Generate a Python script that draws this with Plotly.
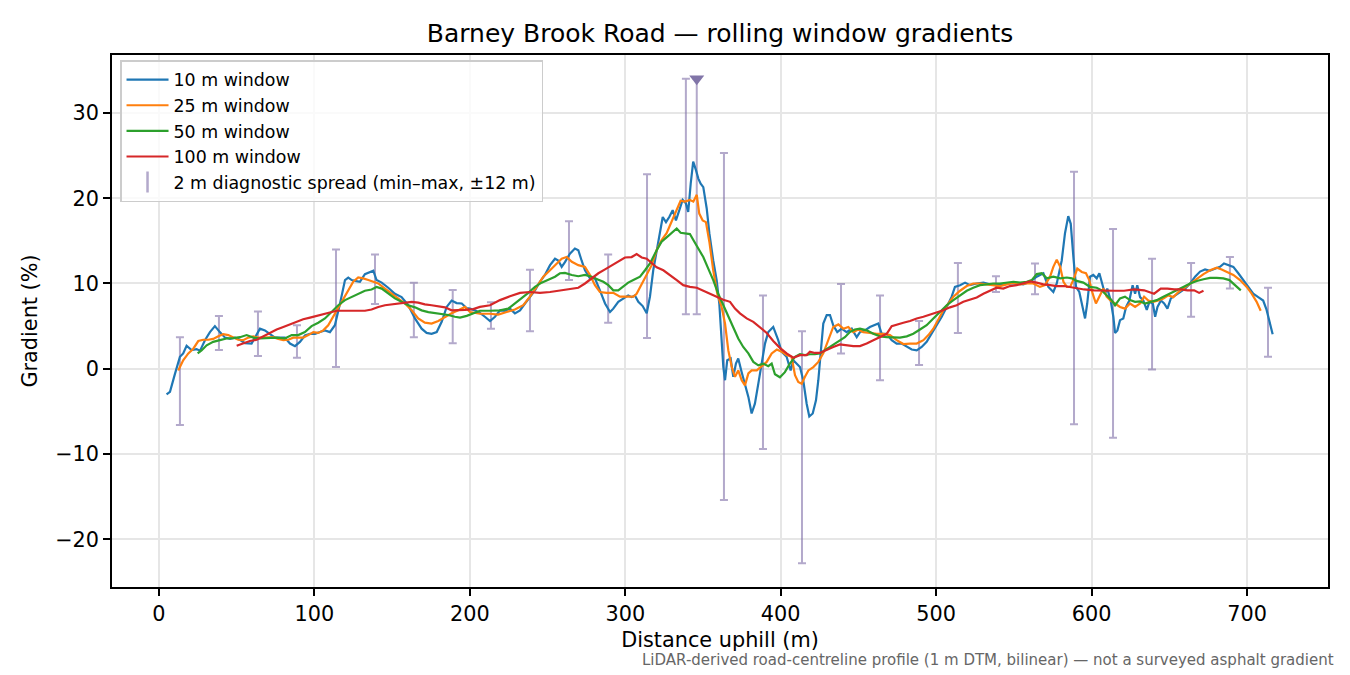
import plotly.graph_objects as go

# 10 m window (distance m, gradient %)
d10 = [4.9, 7.1, 10.3, 13.5, 15.6, 17.8, 21, 24.2, 26.4, 29.6, 32.8, 36, 39.2, 42.5, 45.7, 48.9, 52.1, 55.3, 59.6, 61.8,
       65, 68.2, 71.4, 74.6, 77.8, 81, 84.3, 87.5, 90.7, 93.9, 97.2, 100.4, 103.6, 106.8, 110, 113.2, 116.5, 119.7, 121.8, 124,
       126.1, 129.3, 132.5, 135.8, 137.9, 140, 143.3, 147.5, 151.8, 156.1, 160.4, 164.7, 169, 172.2, 175.4, 178.7, 181.9, 185.1, 188.3, 191.5,
       194.8, 198, 200.1, 203.3, 206.5, 209.7, 213, 216.2, 219.4, 222.6, 225.8, 229, 232.3, 235.5, 238.7, 241.9, 245.1, 248.3, 251.6, 254.8,
       256.9, 259.1, 261.2, 264.4, 267.6, 269.8, 271.9, 274.1, 277.3, 280.5, 283.7, 287, 290.2, 292.3, 295.5, 298.7, 301.9, 304.1, 306.2, 308.4,
       311.2, 313.8, 315.9, 318, 320.2, 322.3, 324.1, 326.2, 328.3, 330.5, 332.6, 334.8, 336.9, 339, 340.5, 342.1, 343.7, 345.5, 347, 348.5,
       350.2, 352.4, 354.1, 356.6, 358.8, 360.5, 362, 363.1, 364.2, 365.6, 367.8, 369.5, 371.2, 372.7, 374.9, 377, 379.2, 381.3, 383.4, 385.6,
       387.8, 389.9, 392, 395.2, 398.4, 400.6, 403.8, 406.4, 408.1, 410.3, 412.4, 414.5, 416.7, 418.4, 420.6, 422.7, 424.2, 425.7, 427.4, 429.6,
       431.7, 433.8, 436.4, 439.2, 442.4, 445.7, 448.9, 451, 454.2, 457.4, 460.6, 462.8, 465, 468.2, 471.4, 474.6, 477.8, 481.1, 484.3, 487.5,
       490.7, 493.9, 497.1, 500.4, 503.6, 506.8, 510, 512.1, 515.4, 518.6, 521.8, 526.1, 530.4, 534.6, 538.9, 543.2, 547.5, 551.8, 556.1, 560.4,
       564.7, 569, 572.2, 575.4, 577.6, 580.8, 582.9, 585, 586.6, 588.3, 590, 592.1, 594.3, 595.8, 597.2, 599, 601.1, 603.3, 605, 606.5,
       608.6, 610.1, 612.3, 614, 615.1, 616.6, 618.3, 620.4, 622.2, 624.3, 626.4, 628, 629.4, 631.2, 633.3, 635.5, 637.2, 639.4, 640.9, 642.4,
       644.6, 646.7, 648.8, 651, 653.8, 657, 660.2, 663.4, 666.6, 669.8, 673, 676.2, 679.4, 682.6, 685.2, 688, 691.2, 694.4, 697.6, 700.8,
       704, 707.2, 710.4, 712.6, 714.8, 716.5]
g10 = [-3.0, -2.7, -0.6, 1.4, 1.8, 2.7, 2.2, 2.3, 2.1, 3.35, 4.3, 5.0, 4.3, 3.65, 3.5, 3.65, 3.4, 3.0, 2.95, 3.7,
       4.7, 4.5, 4.1, 3.65, 3.65, 3.65, 2.95, 2.65, 3.15, 3.9, 4.1, 4.1, 4.3, 4.5, 4.3, 5.1, 7.65, 10.4, 10.7, 10.4,
       10.3, 10.2, 11.1, 11.4, 11.5, 10.4, 10.1, 9.5, 8.8, 8.4, 7.45, 5.9, 4.7, 4.2, 4.1, 4.3, 5.5, 7.25, 8.0, 7.7,
       7.65, 7.1, 7.05, 6.85, 6.55, 6.1, 5.6, 6.1, 6.85, 6.8, 7.05, 6.5, 6.85, 7.65, 8.45, 9.2, 10.2, 11.0, 12.15, 12.9,
       12.7, 11.95, 12.5, 13.5, 14.1, 13.9, 12.7, 11.55, 10.6, 10.6, 9.2, 7.65, 6.65, 7.05, 7.85, 8.25, 8.6, 8.4, 8.6, 7.85,
       7.35, 6.5, 8.45, 11.55, 13.9, 16.25, 17.8, 17.2, 17.8, 18.6, 17.4, 18.6, 19.8, 19.4, 18.4, 21.7, 24.3, 23.3, 22.3, 21.7,
       21.3, 18.8, 15.9, 12.7, 10.4, 7.65, 3.7, 0.2, -1.35, 1.0, 1.2, -0.95, 0.6, 1.2, -0.4, -1.75, -3.3, -5.25, -4.1, -1.75,
       0.6, 2.95, 4.3, 4.9, 3.35, 2.0, 1.4, -0.2, 1.0, 0.6, 0.2, -1.35, -4.1, -5.6, -5.25, -3.7, -1.35, 1.8, 5.3, 6.3,
       6.3, 5.1, 4.3, 4.7, 4.3, 4.7, 3.7, 4.3, 4.5, 4.9, 5.1, 5.3, 4.1, 4.1, 3.35, 2.95, 2.95, 2.55, 2.25, 2.15,
       2.55, 3.15, 4.1, 5.1, 6.1, 7.25, 8.45, 9.6, 9.8, 10.1, 9.8, 10.0, 10.1, 9.9, 9.8, 9.9, 10.0, 10.0, 9.9, 10.2,
       10.8, 11.2, 9.6, 9.0, 10.0, 12.7, 15.9, 17.9, 17.0, 13.1, 9.6, 9.0, 6.9, 5.9, 7.65, 10.8, 11.0, 10.6, 11.2, 10.2,
       8.8, 9.4, 8.0, 6.1, 4.2, 4.5, 5.7, 5.9, 7.25, 8.0, 9.8, 8.8, 9.8, 8.4, 8.0, 6.9, 7.85, 7.65, 6.1, 7.25,
       8.0, 7.65, 7.05, 8.25, 8.6, 9.0, 9.4, 10.0, 10.8, 11.4, 11.65, 11.5, 11.75, 11.95, 12.35, 12.15, 11.95, 11.2, 10.4, 9.5,
       8.8, 8.4, 8.0, 6.9, 5.3, 4.05]

# 25 m window
d25 = [12.4, 15.6, 18.9, 22.1, 25.3, 28.5, 31.7, 34.9, 38.2, 41.4, 44.6, 47.8, 51, 54.2, 57.5, 60.7, 63.9, 67.1, 70.3, 73.5,
       76.8, 80, 83.2, 86.4, 89.6, 92.8, 96.1, 99.3, 102.5, 105.7, 108.9, 112.1, 115.4, 118.6, 121.8, 125, 128.2, 131.4, 134.7, 137.9,
       141.1, 145.4, 149.7, 154, 158.3, 162.6, 166.8, 171.1, 175.4, 179.7, 184, 188.3, 192.6, 196.9, 200.1, 206.5, 213, 218.3, 223.7, 229,
       234.4, 238.7, 243, 247.3, 251.6, 255.9, 259.1, 262.3, 265.6, 269.8, 274.1, 277.3, 280.5, 283.7, 288, 292.3, 296.6, 300.9, 305.2, 307.3,
       310.6, 313.8, 317, 320.2, 323.4, 326.6, 329.8, 333.1, 335.6, 338.4, 341.6, 343.8, 346, 347.6, 349.8, 351.9, 354.1, 356.6, 359.2, 362,
       364.2, 366.3, 368.5, 370.6, 372.7, 374.9, 377, 379.2, 381.3, 384.6, 387.8, 391, 394.2, 397.5, 400.6, 403.8, 407, 409.2, 411.3, 413.5,
       415.6, 417.8, 421, 424.2, 427.4, 430.6, 433.8, 437.1, 440.3, 443.5, 446.7, 449.9, 453.1, 457.4, 461.7, 466, 470.3, 474.6, 478.9, 483.2,
       487.5, 491.8, 495, 498.2, 501.4, 504.6, 507.9, 511.1, 515.4, 519.7, 523.9, 528.2, 532.5, 536.8, 541.1, 545.4, 549.7, 554, 558.3, 562.5,
       566.8, 570, 573.3, 575.4, 577.6, 579.8, 581.9, 584.1, 586.2, 588.7, 590.8, 593.7, 596.4, 598.5, 600.7, 602.8, 605, 607.6, 609.7, 612.3,
       615.1, 618.3, 621.5, 624.7, 628, 631.2, 633.8, 636.5, 639.7, 642.9, 646.2, 649.4, 652.6, 655.8, 659, 663.4, 667.7, 672, 676.2, 680.5,
       683.7, 687, 691.2, 695.5, 699.8, 703, 706.2, 708.8]
g25 = [-0.2, 1.0, 1.8, 2.35, 3.25, 3.4, 3.4, 3.5, 3.8, 4.05, 3.95, 3.7, 3.4, 3.35, 3.65, 3.8, 3.65, 3.65, 3.65, 3.7,
       3.5, 3.35, 3.4, 3.65, 3.65, 3.65, 3.95, 4.3, 4.2, 4.5, 5.1, 6.1, 7.05, 8.05, 9.2, 10.2, 10.7, 10.6, 10.4, 10.2,
       10.0, 9.4, 8.8, 8.25, 7.65, 6.85, 5.9, 5.4, 5.3, 5.6, 6.1, 6.5, 6.85, 7.25, 6.65, 6.45, 6.45, 6.35, 6.65, 6.95,
       7.45, 8.45, 9.6, 10.8, 11.55, 12.35, 12.9, 13.1, 12.55, 12.15, 11.95, 11.0, 9.8, 9.0, 8.9, 8.9, 8.45, 8.45, 8.45, 8.8,
       10.0, 11.0, 12.15, 13.9, 15.1, 15.9, 17.2, 18.6, 19.7, 19.6, 19.8, 19.6, 20.4, 18.2, 17.4, 17.2, 14.9, 11.55, 8.8, 7.25,
       5.3, 2.15, 0.2, -0.95, -0.2, -1.35, -1.95, -0.55, -0.2, -0.2, 0.3, 0.8, 1.8, 2.25, 2.0, 1.6, 1.4, -0.75, -1.55, -1.75,
       -0.95, -0.2, 0.2, 0.8, 1.8, 3.35, 4.9, 5.2, 4.7, 4.9, 4.3, 4.6, 4.3, 4.2, 4.1, 4.1, 3.95, 3.35, 2.9, 2.95,
       2.95, 3.35, 3.95, 4.7, 5.7, 6.85, 7.65, 8.45, 9.15, 9.7, 10.0, 10.0, 9.9, 9.8, 9.7, 9.9, 10.1, 9.9, 10.0, 10.0,
       9.6, 9.8, 10.8, 11.95, 12.8, 11.95, 10.2, 9.6, 9.6, 10.6, 11.75, 11.35, 11.2, 10.4, 8.8, 7.65, 8.45, 9.4, 8.45, 8.0,
       7.65, 7.25, 7.05, 7.65, 7.25, 7.65, 8.45, 8.0, 7.85, 8.0, 8.25, 8.6, 8.4, 9.0, 9.4, 10.0, 10.6, 11.1, 11.55, 11.85,
       11.65, 11.35, 11.0, 10.4, 9.6, 8.8, 7.85, 6.8]

# 50 m window
d50 = [24.9, 27.4, 30.7, 34.9, 39.2, 43.5, 47.8, 52.1, 56.4, 60.7, 65, 70.3, 75.7, 81, 85.4, 89.6, 93.9, 98.2, 102.5, 106.8,
       111.1, 115.4, 119.7, 124, 128.2, 132.5, 136.8, 140, 143.3, 147.5, 151.8, 156.1, 160.4, 164.7, 169, 173.3, 177.6, 181.9, 186.1, 190.4,
       193.7, 198, 202.2, 206.5, 213, 219.4, 224.7, 229, 233.3, 237.6, 241.9, 246.2, 250.5, 254.8, 258, 261.2, 265.6, 269.8, 274.1, 278.4,
       282.7, 285.9, 289.1, 292.3, 295.5, 298.7, 301.9, 305.2, 309.5, 312.7, 315.9, 320.2, 323.4, 326.6, 329.8, 333.1, 335.6, 339.5, 341.6, 343.8,
       347, 350.2, 353.4, 356.6, 359.8, 363.1, 366.3, 369.5, 372.7, 375.9, 379.2, 382.4, 385.6, 388.8, 392, 394.2, 396.3, 399.5, 402.7, 405.9,
       409.2, 412.4, 415.6, 418.8, 422, 425.2, 428.5, 431.7, 434.9, 438.1, 441.3, 444.5, 447.7, 451, 455.3, 459.6, 463.9, 468.2, 472.4, 476.7,
       481.1, 485.3, 489.6, 493.9, 498.2, 502.5, 506.8, 511.1, 515.4, 519.7, 523.9, 528.2, 532.5, 536.8, 541.1, 545.4, 549.7, 554, 558.3, 561.5,
       564.7, 567.9, 571.2, 575.4, 579.8, 584.1, 587.3, 590.4, 594.7, 599, 603.3, 606.5, 609.7, 612.9, 615.1, 618.3, 621.5, 624.7, 628, 631.2,
       634.4, 637.6, 641.9, 646.2, 650.4, 654.7, 659, 663.4, 667.7, 672, 676.2, 680.5, 684.8, 688.7, 691.2, 693.8, 696]
g50 = [1.8, 2.15, 2.75, 3.15, 3.35, 3.55, 3.6, 3.7, 3.95, 3.65, 3.55, 3.6, 3.65, 3.55, 3.95, 3.95, 4.3, 5.0, 5.4, 5.9,
       6.65, 7.45, 8.05, 8.45, 8.8, 9.15, 9.3, 9.6, 9.4, 8.8, 8.25, 7.85, 7.45, 7.2, 6.85, 6.65, 6.55, 6.4, 6.3, 6.1,
       6.0, 6.2, 6.5, 6.8, 6.8, 6.85, 7.05, 7.65, 8.25, 8.9, 9.6, 10.1, 10.45, 10.8, 11.2, 11.25, 11.0, 10.85, 11.0, 10.8,
       10.45, 10.2, 9.8, 9.2, 9.2, 9.7, 10.1, 10.4, 10.8, 11.55, 12.35, 13.9, 14.9, 15.4, 15.9, 16.45, 15.95, 15.9, 15.8, 15.1,
       14.1, 13.1, 11.75, 10.4, 8.8, 7.45, 6.1, 4.9, 3.55, 2.55, 1.8, 0.8, 0.4, 0.6, 0.3, 0.6, -0.65, -1.0, -0.4, 0.6,
       1.4, 1.7, 1.6, 1.7, 1.7, 1.8, 2.15, 2.55, 2.95, 3.35, 3.7, 4.3, 4.6, 4.7, 4.5, 4.1, 3.8, 3.7, 3.65, 3.65,
       3.8, 4.1, 4.6, 5.1, 5.9, 6.65, 7.45, 8.05, 8.6, 9.15, 9.5, 9.8, 9.9, 10.0, 10.0, 10.1, 10.2, 10.1, 10.2, 10.4,
       11.1, 11.2, 10.6, 10.8, 10.6, 10.7, 10.6, 10.3, 10.1, 9.6, 9.5, 9.2, 8.6, 8.05, 7.45, 8.25, 8.45, 8.05, 7.85, 7.9,
       7.65, 7.85, 8.05, 8.45, 8.8, 9.2, 9.6, 10.0, 10.3, 10.5, 10.65, 10.65, 10.6, 10.4, 10.0, 9.6, 9.2]

# 100 m window
d100 = [50, 54.3, 58.5, 62.9, 67.1, 71.4, 75.7, 80, 84.3, 88.6, 92.8, 97.2, 101.5, 105.7, 110, 114.3, 118.6, 122.9, 127.2, 132.5,
        136.8, 141.1, 145.4, 149.7, 154, 158.3, 162.6, 166.8, 171.1, 175.4, 179.7, 184, 188.3, 192.6, 196.9, 202.2, 206.5, 213, 219.4, 225.8,
        232.3, 238.7, 245.1, 251.6, 258, 264.4, 269.8, 274.1, 278.4, 282.7, 287, 291.3, 295.5, 299.8, 304.1, 307.3, 310.6, 313.8, 317, 320.2,
        324.5, 328.8, 333.1, 337.3, 341.6, 346, 350.2, 354.5, 358.8, 363.1, 367.4, 370.6, 373.8, 378.1, 382.4, 386.7, 391, 395.2, 399.5, 403.8,
        408.1, 412.4, 416.7, 418.8, 422, 425.2, 429.6, 433.8, 438.1, 442.4, 446.7, 451, 455.3, 459.6, 463.9, 468.2, 471.4, 474.6, 478.9, 483.2,
        487.5, 491.8, 496, 500.4, 504.6, 508.9, 513.2, 517.5, 521.8, 526.1, 530.4, 534.6, 538.9, 543.2, 547.5, 551.8, 556.1, 560.4, 564.7, 569,
        573.3, 577.6, 582.3, 588.7, 595.2, 601.6, 608.1, 614.5, 620.9, 627.3, 633.8, 640.2, 644.5, 648.8, 653.1, 657.4, 661.7, 666, 669.2, 672]
g100 = [2.7, 2.95, 3.25, 3.4, 3.8, 4.2, 4.6, 4.9, 5.2, 5.5, 5.8, 6.0, 6.2, 6.4, 6.6, 6.8, 6.8, 6.8, 6.8, 6.8,
        6.95, 7.25, 7.45, 7.55, 7.7, 7.75, 7.85, 7.75, 7.55, 7.45, 7.35, 7.2, 6.85, 6.85, 6.9, 7.0, 7.25, 7.45, 8.05, 8.5,
        8.9, 9.0, 8.9, 9.0, 9.2, 9.4, 9.5, 10.0, 10.6, 11.2, 11.65, 12.15, 12.65, 13.05, 13.1, 13.45, 13.05, 12.9, 12.4, 11.9,
        11.55, 11.0, 10.4, 9.8, 9.6, 9.5, 9.2, 8.8, 8.45, 8.1, 7.85, 7.05, 6.5, 5.9, 5.5, 4.9, 4.2, 3.25, 2.45, 1.8,
        1.3, 1.6, 1.6, 2.0, 1.85, 1.85, 2.25, 2.55, 2.85, 2.75, 2.65, 2.65, 2.95, 3.35, 3.7, 4.1, 5.0, 5.2, 5.4, 5.6,
        5.9, 6.1, 6.35, 6.55, 6.85, 7.2, 7.45, 7.85, 8.1, 8.35, 8.8, 9.15, 9.5, 9.4, 9.7, 9.8, 10.0, 10.25, 10.1, 9.9,
        9.8, 9.7, 9.7, 9.5, 9.3, 9.2, 9.15, 9.15, 9.15, 9.3, 9.2, 8.8, 9.4, 9.4, 9.3, 9.3, 9.2, 9.2, 8.9, 9.15]

# 2 m diagnostic spread: min / max within +-12 m
spread_x = [13.5, 38.6, 63.7, 88.8, 113.9, 139, 164, 189, 213.6, 238.7, 263.8, 289, 314, 339, 346,
            363.5, 388.6, 413.7, 438.8, 463.9, 489, 514, 538.5, 563.6, 588.7, 613.8, 638.9, 664, 689, 713.5]
spread_min = [-6.6, 2.2, 1.5, 1.3, 0.2, 7.6, 3.7, 3.0, 4.7, 4.4, 10.4, 5.4, 3.6, 6.4, 6.4,
              -15.4, -9.4, -22.8, 1.8, -1.35, 0.45, 4.2, 9.0, 8.75, -6.5, -8.1, -0.1, 6.1, 9.4, 1.4]
spread_max = [3.7, 6.2, 6.7, 5.1, 14.0, 13.4, 10.1, 9.25, 7.8, 11.6, 17.3, 13.4, 22.8, 34.0, 34.0,
              25.3, 8.6, 4.4, 9.95, 8.6, 5.6, 12.4, 10.85, 12.35, 23.1, 16.4, 12.9, 12.4, 13.1, 9.5]

# steepest point marker
peak_x = [346]
peak_y = [34.0]

spread_col = 'rgba(128,112,168,0.6)'
mid = [(a + b) / 2 for a, b in zip(spread_min, spread_max)]

fig = go.Figure()

fig.add_trace(go.Scatter(
    x=spread_x, y=mid, mode='markers', showlegend=False, hoverinfo='skip',
    marker=dict(size=1, color='rgba(0,0,0,0)'),
    error_y=dict(type='data', symmetric=False,
                 array=[b - m for b, m in zip(spread_max, mid)],
                 arrayminus=[m - a for a, m in zip(spread_min, mid)],
                 color=spread_col, thickness=2, width=4)))

series = [(d10, g10, '10 m window', '#1f77b4'),
          (d25, g25, '25 m window', '#ff7f0e'),
          (d50, g50, '50 m window', '#2ca02c'),
          (d100, g100, '100 m window', '#d62728')]
for xs, ys, name, col in series:
    fig.add_trace(go.Scatter(x=xs, y=ys, mode='lines', name=name, legendgroup=name,
                             line=dict(color=col, width=2.2)))

# legend entry for the spread bars
fig.add_trace(go.Scatter(x=[None], y=[None], mode='markers', name='2 m diagnostic spread (min–max, ±12 m)',
                         legendgroup='spread',
                         marker=dict(symbol='line-ns-open', size=15, color=spread_col,
                                     line=dict(color=spread_col, width=2.5))))

fig.add_trace(go.Scatter(x=peak_x, y=peak_y, mode='markers', showlegend=False, hoverinfo='skip',
                         marker=dict(symbol='triangle-down', size=13, color='#8175a8')))

# the page puts the figure 8 px in from the top-left corner, margins allow for that
fig.update_layout(
    width=1350, height=675,
    margin=dict(l=104, r=30, t=47, b=96),
    paper_bgcolor='white', plot_bgcolor='white',
    font=dict(family='DejaVu Sans', color='black', size=20.8),
    title=dict(text='Barney Brook Road — rolling window gradients', x=0.5, xanchor='center', xref='paper',
               y=1 - 25 / 675, yanchor='middle', yref='container', font=dict(size=25)),
    legend=dict(x=0.0066, y=0.99, xanchor='left', yanchor='top',
                bgcolor='rgba(255,255,255,0.8)', bordercolor='#cccccc', borderwidth=1.5,
                font=dict(size=17.4), tracegroupgap=0, itemwidth=42),
    showlegend=True,
)

axis_style = dict(showline=True, linecolor='black', linewidth=1.6, mirror=True,
                  ticks='outside', ticklen=7, tickwidth=1.6, tickcolor='black',
                  showgrid=True, gridcolor='#e6e6e6', gridwidth=1.5, zeroline=False,
                  tickfont=dict(size=20.8))
fig.update_xaxes(range=[-30.2, 752.1], tickvals=[0, 100, 200, 300, 400, 500, 600, 700],
                 title=dict(text='Distance uphill (m)', font=dict(size=20.8), standoff=8), **axis_style)
fig.update_yaxes(range=[-25.6, 36.8], tickvals=[-20, -10, 0, 10, 20, 30],
                 title=dict(text='Gradient (%)', font=dict(size=20.8), standoff=12), **axis_style)

fig.add_annotation(text='LiDAR-derived road-centreline profile (1 m DTM, bilinear) — not a surveyed asphalt gradient',
                   xref='paper', yref='paper', x=1.0066, y=-0.137, xanchor='right', yanchor='middle',
                   showarrow=False, font=dict(size=15, color='#666666'))

fig.write_html('out.html')
